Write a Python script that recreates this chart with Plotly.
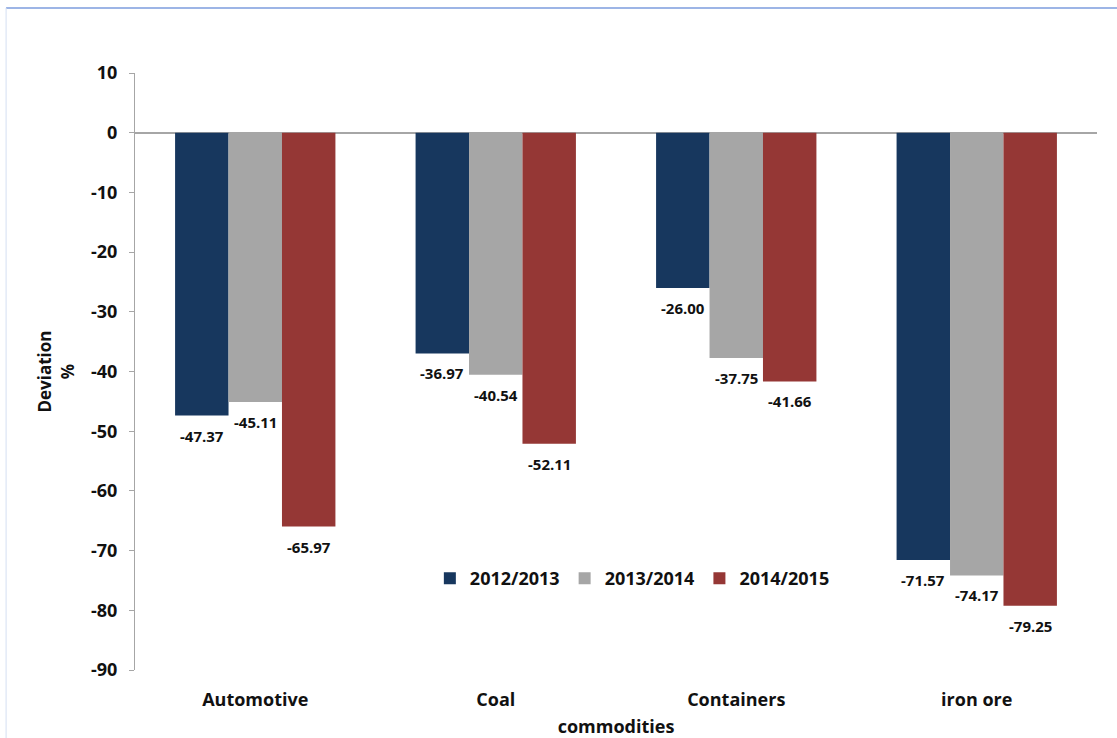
import plotly.graph_objects as go

commodities = ["Automotive", "Coal", "Containers", "iron ore"]
seasons = ["2012/2013", "2013/2014", "2014/2015"]
dev_2012_2013 = [-47.37, -36.97, -26.00, -71.57]
dev_2013_2014 = [-45.11, -40.54, -37.75, -74.17]
dev_2014_2015 = [-65.97, -52.11, -41.66, -79.25]
y_ticks = list(range(10, -100, -10))
y_tick_labels = [str(t) for t in y_ticks]

series = [dev_2012_2013, dev_2013_2014, dev_2014_2015]
colors = ["#17375E", "#A6A6A6", "#953735"]
FONT = "Open Sans"

fig = go.Figure()
for name, vals, col in zip(seasons, series, colors):
    fig.add_trace(go.Bar(
        x=commodities, y=vals, name=name,
        marker=dict(color=col, line=dict(width=0)),
    ))

# value labels under each bar end
offsets = [-2 / 9, 0, 2 / 9]
for k, vals in enumerate(series):
    for i, v in enumerate(vals):
        fig.add_annotation(
            x=i + offsets[k], y=v, xref="x", yref="y",
            text=f"{v:.2f}", showarrow=False,
            yanchor="top", yshift=-8,
            font=dict(family=FONT, size=15, color="#111111", weight="bold"),
        )

# chart frame
fig.add_shape(type="line", xref="paper", yref="paper",
              x0=-0.134, x1=1.05, y0=1.109, y1=1.109,
              line=dict(color="#9DB5E6", width=2))
fig.add_shape(type="line", xref="paper", yref="paper",
              x0=-0.134, x1=-0.134, y0=-0.2, y1=1.109,
              line=dict(color="#D5DFF2", width=1))

fig.update_layout(
    width=1117, height=738,
    margin=dict(l=135, r=20, t=73, b=68),
    paper_bgcolor="white", plot_bgcolor="white",
    barmode="group", bargap=1 / 3, bargroupgap=0,
    font=dict(family=FONT, color="#111111"),
    showlegend=True,
    legend=dict(
        orientation="h", x=0.517, y=0.153, xanchor="center", yanchor="middle",
        font=dict(family=FONT, size=18, weight="bold"),
        bgcolor="rgba(0,0,0,0)", itemwidth=30, traceorder="normal",
    ),
    xaxis=dict(
        automargin=False,
        showline=False, showgrid=False, ticks="",
        tickfont=dict(family=FONT, size=18, weight="bold"),
        ticklabelstandoff=17,
        title=dict(text="commodities", standoff=10,
                   font=dict(family=FONT, size=18, weight="bold")),
    ),
    yaxis=dict(
        automargin=False,
        range=[-90, 10], tickvals=y_ticks, ticktext=y_tick_labels,
        showgrid=False,
        showline=True, linecolor="#A6A6A6", linewidth=1,
        ticks="outside", ticklen=5, tickcolor="#A6A6A6",
        zeroline=True, zerolinecolor="#A6A6A6", zerolinewidth=2,
        tickfont=dict(family=FONT, size=18, weight="bold"),
        ticklabelstandoff=8,
        title=dict(text="Deviation<br>%", standoff=12,
                   font=dict(family=FONT, size=17, weight="bold")),
    ),
)

fig.write_html("out.html")
